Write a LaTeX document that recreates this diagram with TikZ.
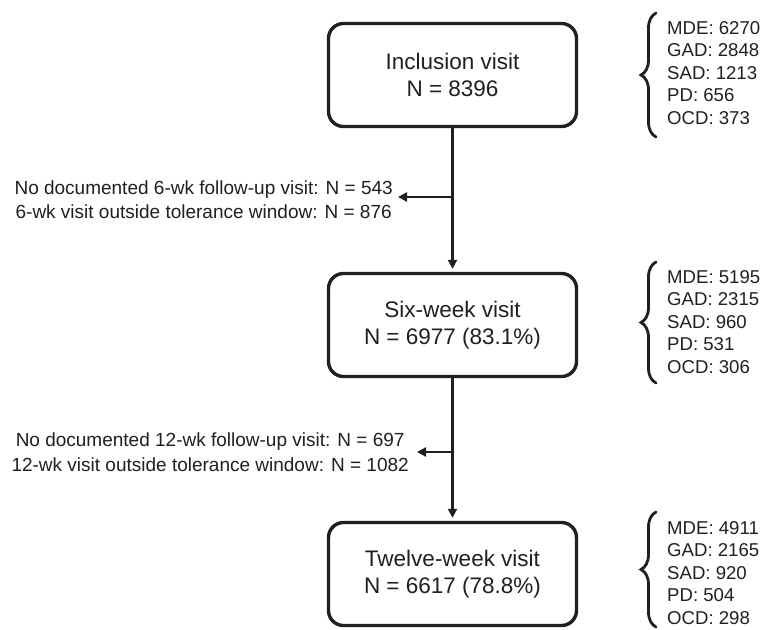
\documentclass[tikz,border=0pt]{standalone}
\usepackage{fontspec}
\setmainfont{Liberation Sans}
\usetikzlibrary{arrows.meta,decorations.pathreplacing}
\definecolor{ink}{HTML}{231F20}
\tikzset{
  visitbox/.style={draw=ink, line width=3.4pt, rounded corners=15pt, minimum width=248pt, minimum height=103pt, align=center, inner sep=0pt, text=ink, font=\fontsize{22.5}{27}\selectfont},
  sidetext/.style={align=center, inner sep=0pt, text=ink, font=\fontsize{19}{24.5}\selectfont},
  diagtext/.style={align=left, inner sep=0pt, text=ink, font=\fontsize{18.6}{22.5}\selectfont, anchor=west},
  flow/.style={draw=ink, line width=2.8pt, -{Triangle[length=9pt,width=9pt]}},
  bracestyle/.style={draw=ink, line width=2.8pt, line cap=round, decorate, decoration={brace, amplitude=15pt}}
}
\begin{document}
\begin{tikzpicture}[x=1pt,y=-1pt]
\useasboundingbox (0,0) rectangle (762,629);
\fill[white] (0,0) rectangle (762,629);

\node[visitbox] (b1) at (452.5,75) {Inclusion visit\\N = 8396};
\node[visitbox] (b2) at (452.5,325) {Six-week visit\\N = 6977 (83.1\%)};
\node[visitbox] (b3) at (452.5,574) {Twelve-week visit\\N = 6617 (78.8\%)};

\draw[flow, shorten >=3pt] (b1.south) -- (b2.north);
\draw[flow, shorten >=3pt] (b2.south) -- (b3.north);

\coordinate (j1) at (452.5,197);
\coordinate (e1) at (398,197);
\coordinate (j2) at (452.5,452);
\coordinate (e2) at (417,452);
\draw[flow] (j1) -- (e1);
\draw[flow] (j2) -- (e2);

\node[sidetext, anchor=east] (t1) at (393,199.5) {No documented 6-wk follow-up visit: N = 543\\6-wk visit outside tolerance window: N = 876};
\node[sidetext, anchor=east] (t2) at (409,452) {No documented 12-wk follow-up visit: N = 697\\12-wk visit outside tolerance window: N = 1082};

\coordinate (br1a) at (656,137);
\coordinate (br1b) at (656,13);
\coordinate (br2a) at (656,383);
\coordinate (br2b) at (656,262);
\coordinate (br3a) at (656,627);
\coordinate (br3b) at (656,512);
\draw[bracestyle] (br1a) -- (br1b);
\draw[bracestyle] (br2a) -- (br2b);
\draw[bracestyle] (br3a) -- (br3b);

\node[diagtext] (d1) at (667,73) {MDE: 6270\\GAD: 2848\\SAD: 1213\\PD: 656\\OCD: 373};
\node[diagtext] (d2) at (667,322) {MDE: 5195\\GAD: 2315\\SAD: 960\\PD: 531\\OCD: 306};
\node[diagtext] (d3) at (667,573) {MDE: 4911\\GAD: 2165\\SAD: 920\\PD: 504\\OCD: 298};
\end{tikzpicture}
\end{document}
